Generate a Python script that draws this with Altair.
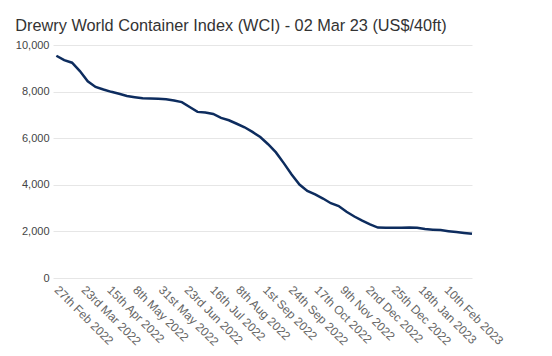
import altair as alt
import pandas as pd

dates = [
    "2022-02-24", "2022-03-03", "2022-03-10", "2022-03-17", "2022-03-24", "2022-03-31",
    "2022-04-07", "2022-04-14", "2022-04-21", "2022-04-28", "2022-05-05", "2022-05-12",
    "2022-05-19", "2022-05-26", "2022-06-02", "2022-06-09", "2022-06-16", "2022-06-23",
    "2022-06-30", "2022-07-07", "2022-07-14", "2022-07-21", "2022-07-28", "2022-08-04",
    "2022-08-11", "2022-08-18", "2022-08-25", "2022-09-01", "2022-09-08", "2022-09-15",
    "2022-09-22", "2022-09-29", "2022-10-06", "2022-10-13", "2022-10-20", "2022-10-27",
    "2022-11-03", "2022-11-10", "2022-11-17", "2022-11-24", "2022-12-01", "2022-12-08",
    "2022-12-15", "2022-12-22", "2022-12-29", "2023-01-05", "2023-01-12", "2023-01-19",
    "2023-01-26", "2023-02-02", "2023-02-09", "2023-02-16", "2023-02-23", "2023-03-02",
]
wci = [
    9540, 9350, 9240, 8880, 8440, 8200, 8090, 7990, 7905, 7815,
    7760, 7710, 7700, 7690, 7675, 7620, 7550, 7340, 7130, 7100,
    7040, 6870, 6770, 6620, 6470, 6270, 6050, 5740, 5390, 4930,
    4440, 4010, 3740, 3590, 3410, 3210, 3090, 2840, 2640, 2460,
    2300, 2165, 2160, 2156, 2160, 2165, 2160, 2100, 2075, 2055,
    2010, 1970, 1930, 1895,
]
tick_dates = [
    "2022-02-27", "2022-03-23", "2022-04-15", "2022-05-08", "2022-05-31", "2022-06-23",
    "2022-07-16", "2022-08-08", "2022-09-01", "2022-09-24", "2022-10-17", "2022-11-09",
    "2022-12-02", "2022-12-25", "2023-01-18", "2023-02-10",
]
y_ticks = [0, 2000, 4000, 6000, 8000, 10000]
domain_dates = ["2022-02-21", "2023-03-02"]


def ms(s):
    return int(pd.Timestamp(s, tz="UTC").value // 10**6)


df = pd.DataFrame({"date": dates, "value": wci})

label_expr = (
    "utcdate(datum.value) + "
    "((utcdate(datum.value) % 10 == 1 && utcdate(datum.value) != 11) ? 'st' : "
    "(utcdate(datum.value) % 10 == 2 && utcdate(datum.value) != 12) ? 'nd' : "
    "(utcdate(datum.value) % 10 == 3 && utcdate(datum.value) != 13) ? 'rd' : 'th') + "
    "' ' + utcFormat(datum.value, '%b %Y')"
)

chart = (
    alt.Chart(df)
    .mark_line(color="#0d2c5e", strokeWidth=2.5)
    .encode(
        x=alt.X(
            "date:T",
            scale=alt.Scale(type="utc", domain=[ms(d) for d in domain_dates]),
            axis=alt.Axis(
                title=None,
                values=[ms(d) for d in tick_dates],
                labelExpr=label_expr,
                labelAngle=45,
                labelAlign="left",
                labelBaseline="top",
                labelOverlap=False,
                labelBound=False,
                labelFlush=False,
                labelPadding=6,
                labelFontSize=12,
                labelColor="#666666",
                labelFont="Liberation Sans",
                grid=False,
                ticks=False,
                domain=False,
            ),
        ),
        y=alt.Y(
            "value:Q",
            scale=alt.Scale(domain=[0, 10000]),
            axis=alt.Axis(
                title=None,
                values=y_ticks,
                format=",.0f",
                labelFontSize=11,
                labelColor="#444444",
                labelFont="Liberation Sans",
                labelPadding=4,
                ticks=False,
                domain=False,
                gridColor="#e6e6e6",
                gridWidth=1,
            ),
        ),
    )
    .properties(
        width=419,
        height=233,
        title=alt.TitleParams(
            text="Drewry World Container Index (WCI) - 02 Mar 23 (US$/40ft)",
            anchor="start",
            dy=26,
            fontSize=16.3,
            font="Liberation Sans",
            fontWeight="normal",
            color="#333333",
            baseline="alphabetic",
            offset=18,
        ),
        autosize=alt.AutoSizeParams(type="none"),
        padding={"left": 53, "top": 45, "right": 80, "bottom": 78},
    )
    .configure_view(stroke=None)
)

chart.save("out.html", embed_options={"renderer": "svg", "actions": False})
